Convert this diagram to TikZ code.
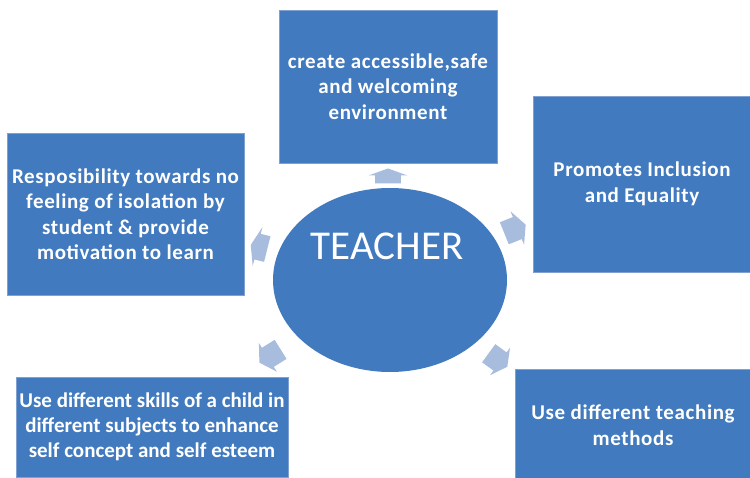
\documentclass[tikz,border=0pt]{standalone}
\usepackage{fontspec}
\setmainfont{Carlito}
\newfontfamily\boxfont[LetterSpace=3]{Carlito}
\usetikzlibrary{shapes.geometric}
\definecolor{boxblue}{RGB}{65,122,190}
\definecolor{boxedge}{RGB}{128,160,210}
\definecolor{arrowblue}{RGB}{168,189,221}
\tikzset{
  infobox/.style={rectangle, fill=boxblue, draw=boxedge, line width=0.7pt,
    inner sep=0pt, text=white, align=center,
    font=\boxfont\bfseries\fontsize{21}{25.5}\selectfont},
  tightbox/.style={infobox, font=\bfseries\fontsize{21}{25}\selectfont},
  hub/.style={ellipse, fill=boxblue, inner sep=0pt,
    minimum width=234, minimum height=184},
  hubtext/.style={text=white, inner sep=0pt, font=\fontsize{41}{45}\selectfont},
  arrowfill/.style={fill=arrowblue}
}
% block arrow: centre, direction, length, head length, head half-width
\newcommand{\radialarrow}[5]{%
  \fill[arrowfill, shift={#1}, rotate=#2]
    ({-#3/2},{-0.66*#5}) -- ({#3/2-#4},{-0.66*#5}) -- ({#3/2-#4},-#5) -- ({#3/2},0)
    -- ({#3/2-#4},#5) -- ({#3/2-#4},{0.66*#5}) -- ({-#3/2},{0.66*#5}) -- cycle;}
\begin{document}
\begin{tikzpicture}[x=1pt, y=-1pt]
  \useasboundingbox (0,0) rectangle (750,478);
  \fill[white] (0,0) rectangle (750,478);

  % outer boxes
  \node[infobox, minimum width=218, minimum height=153] (env) at (388,86.5)
    {create accessible,safe\\and welcoming\\environment};
  \node[infobox, minimum width=218, minimum height=176] (incl) at (642,184)
    {Promotes Inclusion\\and Equality};
  \node[infobox, minimum width=237, minimum height=162] (resp) at (125.5,214)
    {Resposibility towards no\\feeling of isolation by\\student \& provide\\motivation to learn};
  \node[tightbox, minimum width=272, minimum height=100] (skills) at (152,427)
    {Use different skills of a child in\\different subjects to enhance\\self concept and self esteem};
  \node[infobox, minimum width=236, minimum height=112] (methods) at (633,425)
    {Use different teaching\\methods};

  % centre
  \node[hub] (teacher) at (390,280) {};
  \node[hubtext] (teacherlabel) at (387,246) {TEACHER};

  % arrows pointing outward from the centre
  \radialarrow{(388,176)}{90}{15}{7}{19.5}
  \radialarrow{(515,229)}{22}{23}{9}{18}
  \radialarrow{(259,247)}{166}{17}{7}{20}
  \radialarrow{(270,356)}{212}{25}{10}{17}
  \radialarrow{(498,360)}{-36}{23}{9}{17}
\end{tikzpicture}
\end{document}
